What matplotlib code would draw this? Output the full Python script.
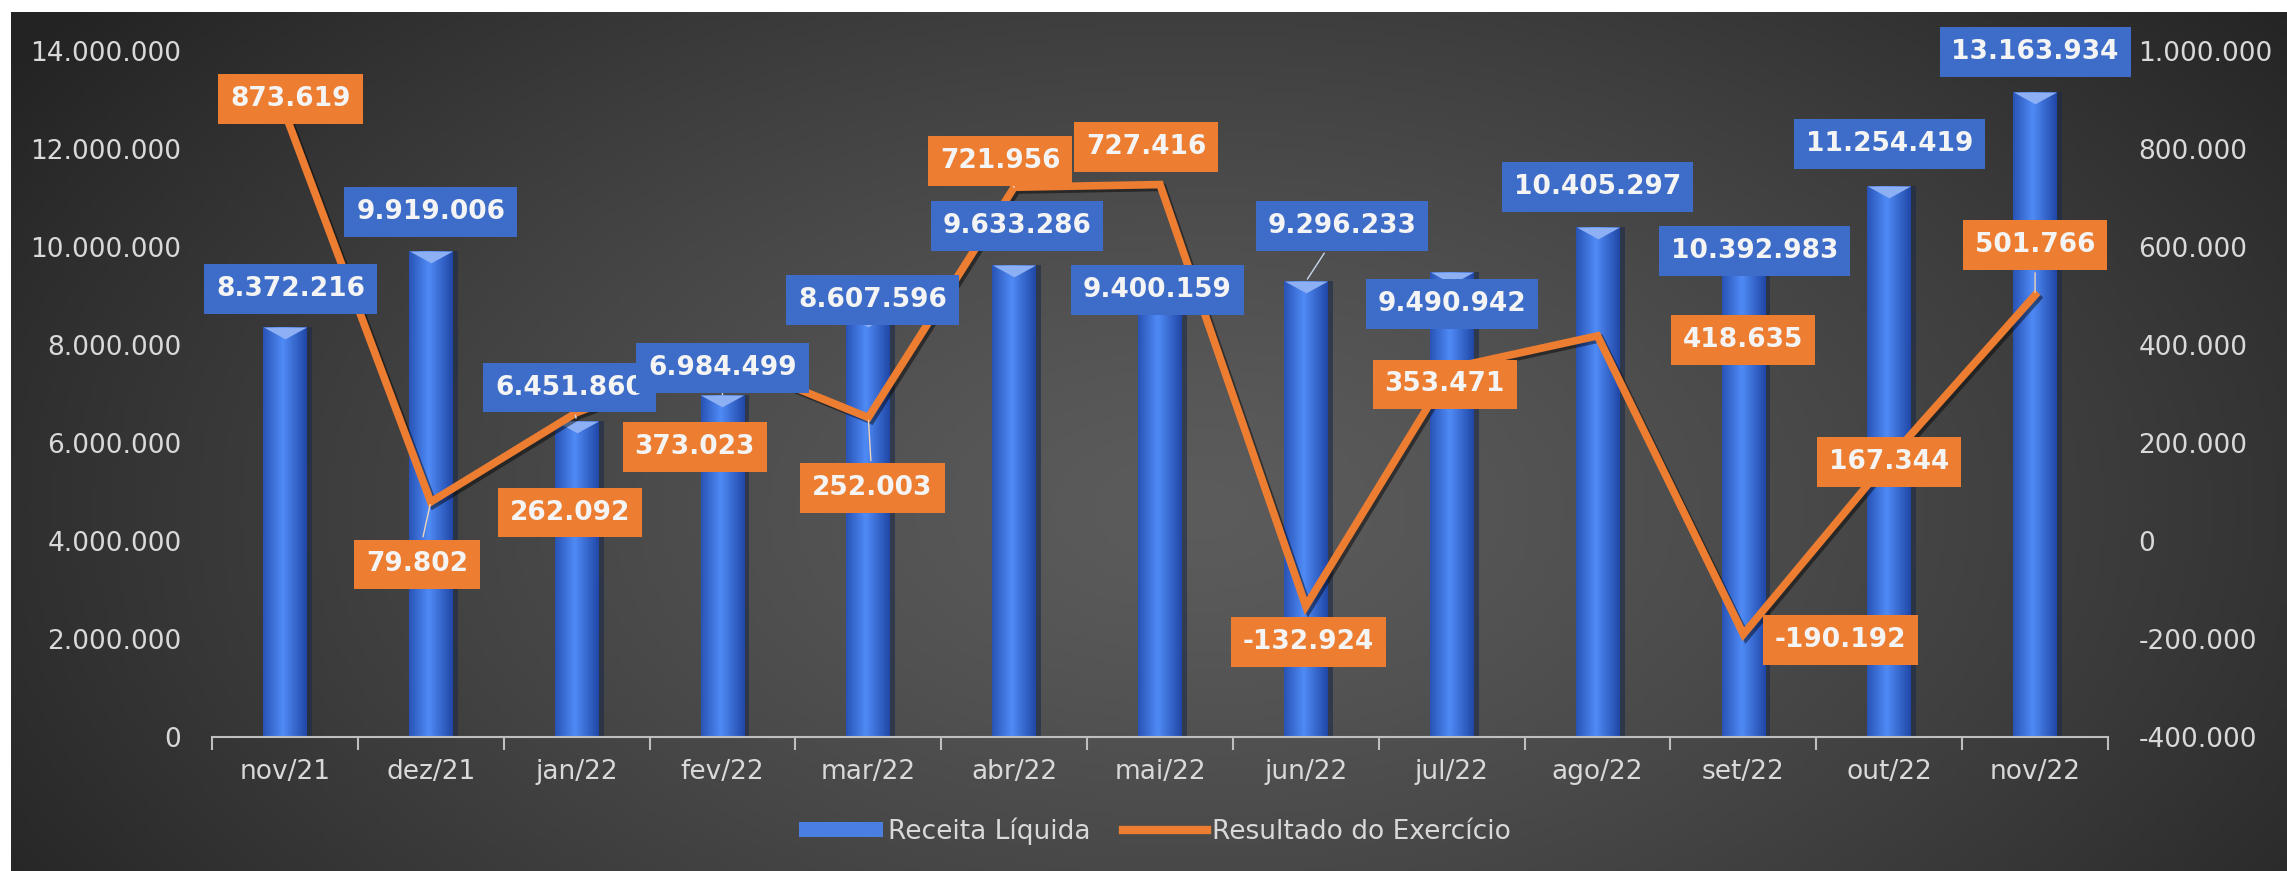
#!/usr/bin/env python3
'''
Receita Liquida x Resultado do Exercicio (nov/21 - nov/22).
'''
### MODULES ---
import numpy as np
import matplotlib
matplotlib.use('Agg')
import matplotlib.pyplot as plt
import matplotlib.patheffects as pe
from matplotlib.path import Path
from matplotlib.patches import Patch
from matplotlib.lines import Line2D


### DATA ---
months = ['nov/21', 'dez/21', 'jan/22', 'fev/22', 'mar/22', 'abr/22', 'mai/22',
          'jun/22', 'jul/22', 'ago/22', 'set/22', 'out/22', 'nov/22']
receita = [8372216, 9919006, 6451860, 6984499, 8607596, 9633286, 9400159,
           9296233, 9490942, 10405297, 10392983, 11254419, 13163934]
resultado = [873619, 79802, 262092, 373023, 252003, 721956, 727416,
             -132924, 353471, 418635, -190192, 167344, 501766]

left_ticks = [0, 2000000, 4000000, 6000000, 8000000, 10000000, 12000000, 14000000]
right_ticks = [-400000, -200000, 0, 200000, 400000, 600000, 800000, 1000000]

# label offsets in points (dx, dy) and whether a leader line is drawn
receita_off = [(4, 27), (0, 28), (-5, 24), (0, 19), (3, 11), (2, 28), (-2, -10),
               (26, 40), (0, -23), (0, 29), (8, -17), (0, 30), (0, 29)]
receita_lead = [0, 0, 1, 1, 0, 0, 0, 1, 0, 0, 0, 0, 0]
resultado_off = [(4, 10), (-10, -45), (-5, -72), (-20, -64), (3, -51), (-10, 19),
                 (-10, 27), (2, -26), (-5, -12), (105, -3), (70, -4), (0, -2), (0, 36)]
resultado_lead = [0, 1, 0, 0, 1, 1, 0, 0, 0, 0, 0, 0, 1]


### STYLE ---
plt.rcParams['font.family'] = ['DejaVu Sans']
BLUE = '#3a74e0'
BLUE_BOX = '#3d6dc8'
ORANGE = '#ED7D31'
TXT = '#d9d9d9'


def fmt(v):
    return '{:,}'.format(int(v)).replace(',', '.')


### FIGURE ---
W, H = 2287, 871
fig = plt.figure(figsize=(W/100, H/100), dpi=100, facecolor='white')

# Background with radial gradient
bg = fig.add_axes([11/W, 0, 1 - 11/W, 1 - 12/H], zorder=-10)
gx, gy = np.meshgrid(np.linspace(0, 1, 400), np.linspace(0, 1, 200))
r = np.sqrt(((gx - 0.52)/0.62)**2 + ((gy - 0.42)/0.95)**2)
shade = 0.36 - 0.22*np.clip(r, 0, 1)**1.3
bg.imshow(np.dstack([shade]*3), extent=(0, 1, 0, 1), aspect='auto', origin='lower')
bg.set_axis_off()

ax = fig.add_axes([212/W, 1 - 737/H, (2108 - 212)/W, (737 - 51)/H])
ax.patch.set_visible(False)
x = np.arange(len(months))

# Bars with horizontal gradient and a soft dark shadow on the right
ax.bar(x + 0.035, receita, width=0.3, color='#1c2a48', alpha=0.6, zorder=1.9)
bars = ax.bar(x, receita, width=0.3, color=BLUE, zorder=2)
grad = np.linspace(0, 1, 64)
grad = 1 - np.abs(grad - 0.45)*2
cmap = matplotlib.colors.LinearSegmentedColormap.from_list('b', ['#2048a8', '#4f8af5'])
for b in bars:
    x0, w, h = b.get_x(), b.get_width(), b.get_height()
    im = ax.imshow(grad[None, :], extent=(x0, x0 + w, 0, h), aspect='auto',
                   cmap=cmap, zorder=2.1)
    im.set_clip_path(b)

# Bevel caps
cap = Path([(-1, 0), (1, 0), (0, -0.55), (-1, 0)])
ax.plot(x, receita, ls='none', marker=cap, ms=31, mfc='#8db0f4', mec='none', zorder=3)

ax.set_xlim(-0.5, len(months) - 0.5)
ax.set_ylim(0, 14000000)
ax.set_yticks(left_ticks)
ax.set_yticklabels([fmt(v) for v in left_ticks])
ax.set_xticks(x)
ax.set_xticklabels(months)
ax.set_xticks(np.arange(-0.5, len(months)), minor=True)
ax.tick_params(axis='x', which='major', length=0, pad=16, labelsize=19, colors=TXT)
ax.tick_params(axis='x', which='minor', length=9, width=1.5, color='#bfbfbf', direction='out')
ax.tick_params(axis='y', length=0, pad=22, labelsize=19, colors=TXT)
for s in ['top', 'right', 'left']:
    ax.spines[s].set_visible(False)
ax.spines['bottom'].set_color('#bfbfbf')
ax.spines['bottom'].set_linewidth(1.5)

# Line on secondary axis
ax2 = ax.twinx()
ax2.plot(x, resultado, color=ORANGE, lw=5.5, solid_joinstyle='miter', zorder=4,
         path_effects=[pe.SimpleLineShadow(offset=(2, -2), alpha=0.45), pe.Normal()])
ax2.set_ylim(-400000, 1000000)
ax2.set_yticks(right_ticks)
ax2.set_yticklabels([fmt(v) for v in right_ticks])
ax2.tick_params(axis='y', length=0, pad=22, labelsize=19, colors=TXT)
for s in ax2.spines.values():
    s.set_visible(False)

# Data labels
for i in range(len(months)):
    ap = dict(arrowstyle='-', color='#c9d6ee', lw=1) if receita_lead[i] else None
    ax2.annotate(fmt(receita[i]), (x[i], receita[i]), xycoords=ax.transData,
                 xytext=receita_off[i], textcoords='offset points', ha='center', va='center',
                 fontsize=19, fontweight='bold', color='#f4f4f4', zorder=10, arrowprops=ap,
                 bbox=dict(boxstyle='square,pad=0.45', fc=BLUE_BOX, ec='none'))
for i in range(len(months)):
    ap = dict(arrowstyle='-', color='#f0d2bc', lw=1) if resultado_lead[i] else None
    ax2.annotate(fmt(resultado[i]), (x[i], resultado[i]),
                 xytext=resultado_off[i], textcoords='offset points', ha='center', va='center',
                 fontsize=19, fontweight='bold', color='#f4f4f4', zorder=11, arrowprops=ap,
                 bbox=dict(boxstyle='square,pad=0.45', fc=ORANGE, ec='none'))

# Legend
handles = [Patch(facecolor='#4a7ee0', edgecolor='none'),
           Line2D([], [], color=ORANGE, lw=6)]
fig.legend(handles, ['Receita Líquida', 'Resultado do Exercício'], loc='center',
           bbox_to_anchor=(0.505, 0.046), ncol=2, frameon=False, fontsize=19,
           labelcolor=TXT, handlelength=3.2, handleheight=0.5, columnspacing=1.2,
           handletextpad=0.2)

fig.savefig('out.png', dpi=100, facecolor=fig.get_facecolor())
